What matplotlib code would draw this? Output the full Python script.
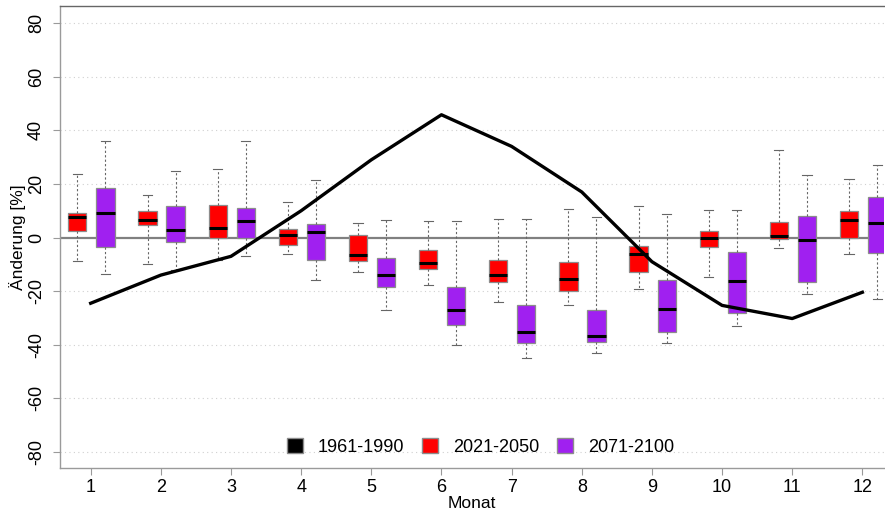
#!/usr/bin/env python3
"""Monthly precipitation change: 1961-1990 curve plus box plots for two future periods."""

import matplotlib
matplotlib.use("Agg")
import matplotlib.pyplot as plt
from matplotlib.patches import Patch

plt.rcParams["font.family"] = ["Liberation Sans", "DejaVu Sans"]

MONTHS = list(range(1, 13))

# reference period line
BASE_1961_1990 = [-24.5, -14, -7, 10, 29, 45.8, 34, 17, -9, -25.3, -30.2, -20.4]

# 2021-2050: whisker low, q1, median, q3, whisker high
NEAR_LO = [-8.6, -9.8, -8.2, -6.0, -12.8, -17.6, -24.2, -25.0, -19.0, -14.8, -4.0, -6.0]
NEAR_Q1 = [2.3, 4.6, 0.0, -2.9, -8.9, -11.9, -16.5, -20.0, -12.8, -3.5, -0.7, 0.0]
NEAR_MED = [7.8, 6.5, 3.5, 1.0, -6.6, -9.4, -13.9, -15.6, -6.3, -0.1, 0.6, 6.7]
NEAR_Q3 = [9.1, 9.8, 12.0, 3.2, 0.9, -4.5, -8.4, -9.1, -3.2, 2.6, 5.8, 9.8]
NEAR_HI = [23.8, 15.9, 25.7, 13.3, 5.6, 6.1, 7.0, 10.5, 11.9, 10.1, 32.5, 22.0]

# 2071-2100
FAR_LO = [-13.5, -12.2, -7.0, -15.9, -27.1, -39.9, -45.0, -43.1, -39.5, -32.8, -21.2, -22.8]
FAR_Q1 = [-3.5, -1.6, 0.0, -8.2, -18.5, -32.5, -39.5, -39.0, -35.3, -28.2, -16.5, -5.8]
FAR_MED = [9.1, 2.7, 6.2, 2.0, -14.0, -26.9, -35.4, -36.9, -26.6, -16.1, -1.0, 5.5]
FAR_Q3 = [18.4, 11.8, 11.0, 5.0, -7.7, -18.6, -25.3, -27.1, -16.0, -5.2, 8.2, 15.0]
FAR_HI = [36.0, 25.0, 35.9, 21.6, 6.5, 6.1, 7.0, 7.8, 8.8, 10.1, 23.5, 27.2]

Y_TICKS = [-80, -60, -40, -20, 0, 20, 40, 60, 80]
LEGEND_LABELS = ["1961-1990", "2021-2050", "2071-2100"]

RED = "#ff0000"
PURPLE = "#a020f0"
EDGE = "#8c8c8c"
AXIS_GREY = "#9a9a9a"


def _stats(lo, q1, med, q3, hi):
    return [
        {"whislo": a, "q1": b, "med": c, "q3": d, "whishi": e, "fliers": []}
        for a, b, c, d, e in zip(lo, q1, med, q3, hi)
    ]


def _boxes(ax, stats, positions, color):
    ax.bxp(
        stats,
        positions=positions,
        widths=0.26,
        patch_artist=True,
        showfliers=False,
        manage_ticks=False,
        boxprops=dict(facecolor=color, edgecolor=EDGE, linewidth=0.9),
        medianprops=dict(color="black", linewidth=2.2, solid_capstyle="butt"),
        whiskerprops=dict(color="#666666", linewidth=0.8, linestyle=(0, (2, 2))),
        capprops=dict(color="#666666", linewidth=0.8),
        capwidths=0.13,
        zorder=3,
    )


def main() -> None:
    fig = plt.figure(figsize=(8.85, 5.15), dpi=100, facecolor="white")
    ax = fig.add_axes([0.068, 0.091, 0.931, 0.897])

    ax.set_xlim(0.565, 12.31)
    ax.set_ylim(-86, 86.3)

    for y in Y_TICKS:
        if y != 0:
            ax.axhline(y, color="#d0d0d0", linewidth=0.8, linestyle=(0, (1, 3)), zorder=0)
    ax.axhline(0, color="#808080", linewidth=1.6, zorder=1)

    ax.plot(MONTHS, BASE_1961_1990, color="black", linewidth=2.4, zorder=4)

    _boxes(ax, _stats(NEAR_LO, NEAR_Q1, NEAR_MED, NEAR_Q3, NEAR_HI),
           [m - 0.19 for m in MONTHS], RED)
    _boxes(ax, _stats(FAR_LO, FAR_Q1, FAR_MED, FAR_Q3, FAR_HI),
           [m + 0.21 for m in MONTHS], PURPLE)

    ax.set_xticks(MONTHS)
    ax.set_xticklabels([str(m) for m in MONTHS], fontsize=13)
    ax.set_yticks(Y_TICKS)
    ax.set_yticklabels([str(y) for y in Y_TICKS], fontsize=13, rotation=90, va="center")
    ax.tick_params(axis="both", color=AXIS_GREY, length=5, width=0.8)
    ax.tick_params(axis="y", pad=6)
    ax.tick_params(axis="x", pad=3)
    ax.set_xlabel("Monat", fontsize=12.5, labelpad=0)
    ax.set_ylabel("Änderung [%]", fontsize=12.5)
    ax.yaxis.set_label_coords(-0.041, 0.5)

    ax.spines["right"].set_visible(False)
    for side in ("top", "left", "bottom"):
        ax.spines[side].set_color(AXIS_GREY)
        ax.spines[side].set_linewidth(1.0)
    ax.spines["top"].set_color("#666666")

    handles = [
        Patch(facecolor="black", edgecolor=EDGE),
        Patch(facecolor=RED, edgecolor=EDGE),
        Patch(facecolor=PURPLE, edgecolor=EDGE),
    ]
    ax.legend(
        handles,
        LEGEND_LABELS,
        loc="center",
        bbox_to_anchor=(0.51, 0.045),
        ncol=3,
        frameon=False,
        fontsize=13,
        handlelength=0.9,
        handleheight=0.9,
        handletextpad=0.8,
        columnspacing=1.0,
    )

    fig.savefig("out.png", dpi=100, facecolor="white")
    plt.close(fig)


if __name__ == "__main__":
    main()
